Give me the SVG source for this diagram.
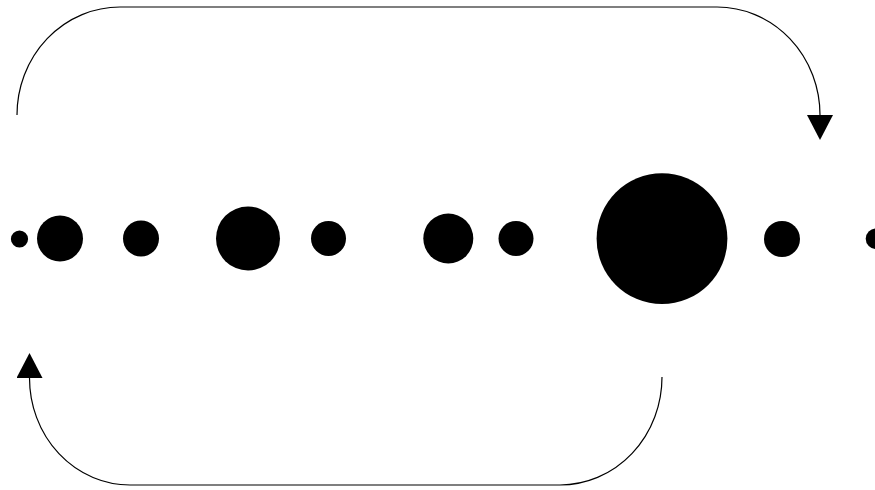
<svg xmlns="http://www.w3.org/2000/svg" width="875" height="490" viewBox="0 0 875 490">
<style>
.dot{fill:#000}
.conn{fill:none;stroke:#000;stroke-width:1.2}
</style>
<defs>
<marker id="arr" markerUnits="userSpaceOnUse" markerWidth="26" markerHeight="26" refX="0" refY="12.5" orient="auto" viewBox="0 0 24 25">
<path d="M0,0 L24,12.5 L0,25 Z" fill="#000"/>
</marker>
</defs>
<rect width="875" height="490" fill="#fff"/>
<g id="connectors">
<path class="conn" d="M17,115 A103,108 0 0 1 120,7 L717,7 A103,108 0 0 1 820,115" marker-end="url(#arr)"/>
<path class="conn" d="M662,377 A102,108 0 0 1 560,485 L130,485 A100.5,107 0 0 1 29.5,378" marker-end="url(#arr)"/>
</g>
<g id="n1"><circle class="dot" cx="19.5" cy="239" r="8.6"/></g>
<g id="n2"><circle class="dot" cx="60" cy="238.5" r="23"/></g>
<g id="n3"><circle class="dot" cx="141" cy="238.5" r="18"/></g>
<g id="n4"><circle class="dot" cx="248" cy="238.5" r="32"/></g>
<g id="n5"><circle class="dot" cx="328.5" cy="238.5" r="17.5"/></g>
<g id="n6"><circle class="dot" cx="448.3" cy="238.5" r="25"/></g>
<g id="n7"><circle class="dot" cx="516" cy="238.5" r="17.5"/></g>
<g id="n8"><circle class="dot" cx="662" cy="238.7" r="65.4"/></g>
<g id="n9"><circle class="dot" cx="782" cy="239" r="18"/></g>
<g id="n10"><circle class="dot" cx="876" cy="238.7" r="10.3"/></g>
</svg>
